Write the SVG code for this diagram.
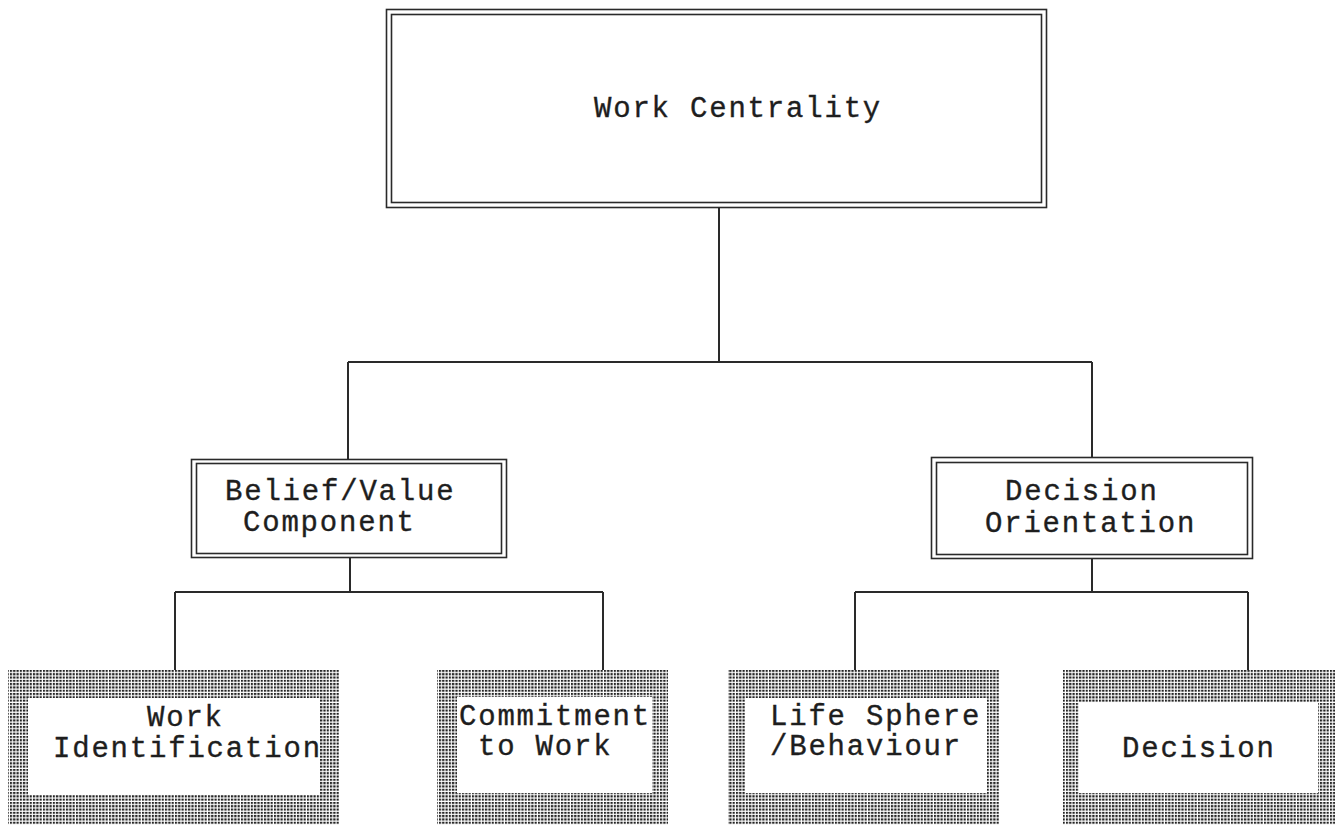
<svg xmlns="http://www.w3.org/2000/svg" width="1340" height="825" viewBox="0 0 1340 825">
  <style>
    .bg { fill: #ffffff; }
    .frame { fill: none; stroke: #2a2a2a; stroke-width: 1.6; }
    .link { fill: none; stroke: #2a2a2a; stroke-width: 2; }
    .label { font-family: "Liberation Mono", "Courier New", monospace; font-size: 29px; letter-spacing: 1.8px; fill: #1e1e1e; stroke: #1e1e1e; stroke-width: 0.35; }
    .screen { fill: url(#dots); }
    .hole { fill: #ffffff; }
  </style>
  <defs>
    <!-- halftone screen used for the outer band of the bottom boxes -->
    <pattern id="dots" x="0" y="0" width="3.3" height="3.3" patternUnits="userSpaceOnUse">
      <rect x="0" y="0" width="2.2" height="2.1" fill="#222222"/>
    </pattern>
  </defs>

  <rect class="bg" x="0" y="0" width="1340" height="825"/>

  <!-- connectors -->
  <g id="connectors">
    <path class="link" d="M719 208 V362 M348 362 H1092 M348 362 V459 M1092 362 V458"/>
    <path class="link" d="M350 558 V592 M175 592 H603 M175 592 V670 M603 592 V670"/>
    <path class="link" d="M1092 559 V592 M855 592 H1248 M855 592 V670 M1248 592 V670"/>
  </g>

  <!-- root node -->
  <g id="work-centrality">
    <rect class="frame" x="386.5" y="9.5" width="660" height="198"/>
    <rect class="frame" x="391.5" y="14.5" width="650" height="188"/>
    <text class="label" x="594" y="117">Work Centrality</text>
  </g>

  <!-- second level -->
  <g id="belief-value">
    <rect class="bg" x="191" y="459" width="316" height="99"/>
    <rect class="frame" x="191.5" y="459.5" width="315" height="98"/>
    <rect class="frame" x="196.5" y="463.5" width="305" height="90"/>
    <text class="label" x="225" y="500">Belief/Value</text>
    <text class="label" x="243" y="531">Component</text>
  </g>

  <g id="decision-orientation">
    <rect class="bg" x="931" y="457" width="322" height="102"/>
    <rect class="frame" x="931.5" y="457.5" width="321" height="101"/>
    <rect class="frame" x="936.5" y="462.5" width="311" height="92"/>
    <text class="label" x="1005" y="500">Decision</text>
    <text class="label" x="985" y="532">Orientation</text>
  </g>

  <!-- third level -->
  <g id="work-identification">
    <rect class="screen" x="8" y="670" width="331" height="155"/>
    <rect class="hole" x="28" y="698" width="292" height="97"/>
    <text class="label" x="147" y="726">Work</text>
    <text class="label" x="53" y="757">Identification</text>
  </g>

  <g id="commitment-to-work">
    <rect class="screen" x="437" y="670" width="231" height="155"/>
    <rect class="hole" x="457" y="697" width="195" height="96"/>
    <text class="label" x="459" y="725">Commitment</text>
    <text class="label" x="478" y="755">to Work</text>
  </g>

  <g id="life-sphere-behaviour">
    <rect class="screen" x="728" y="670" width="272" height="155"/>
    <rect class="hole" x="745" y="698" width="242" height="95"/>
    <text class="label" x="770" y="725">Life Sphere</text>
    <text class="label" x="770" y="755">/Behaviour</text>
  </g>

  <g id="decision">
    <rect class="screen" x="1063" y="670" width="272" height="155"/>
    <rect class="hole" x="1079" y="703" width="239" height="90"/>
    <text class="label" x="1122" y="757">Decision</text>
  </g>
</svg>
